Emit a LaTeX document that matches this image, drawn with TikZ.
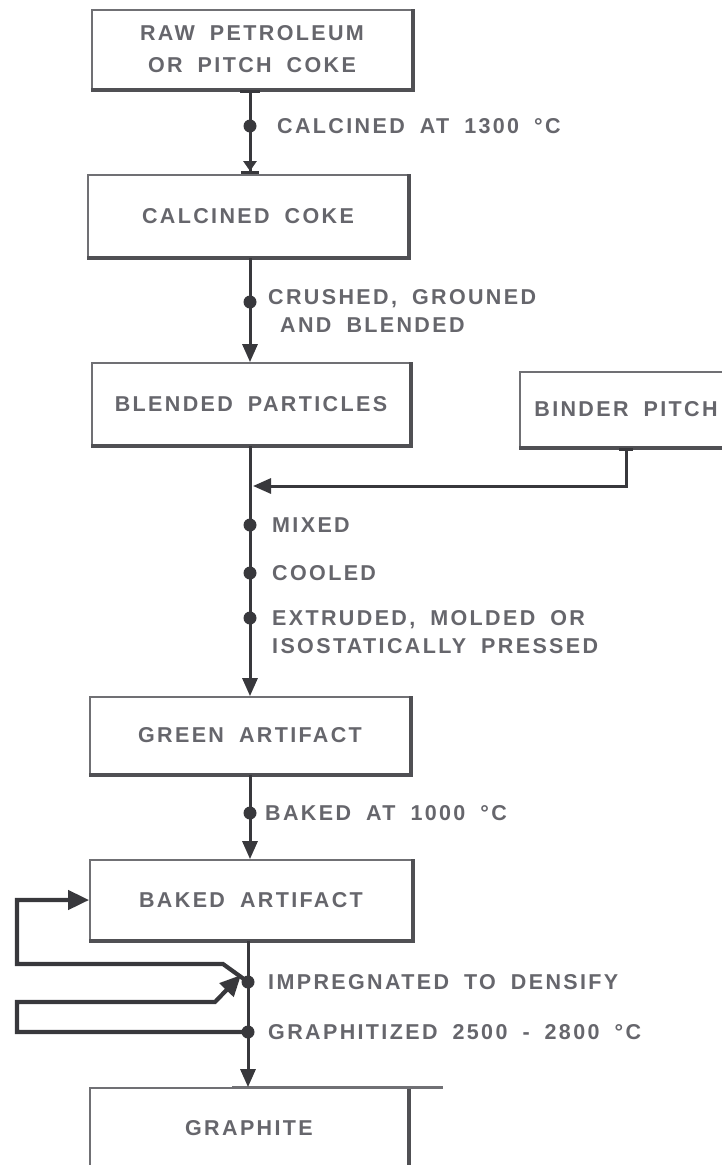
\documentclass[tikz,border=0pt]{standalone}
\usepackage{fontspec}
\setmainfont{Liberation Sans}[LetterSpace=11, WordSpace=1.8, UprightFont=* Bold]
\usetikzlibrary{arrows.meta}
\definecolor{txt}{HTML}{66666C}
\definecolor{boxc}{HTML}{707074}
\definecolor{boxd}{HTML}{505054}
\definecolor{linec}{HTML}{38383C}
\begin{document}
\begin{tikzpicture}[x=1pt,y=-1pt,
  box/.style={draw=boxc, line width=1.8pt, fill=white, align=center, text=txt,
    font=\fontsize{21.5}{32}\selectfont, inner sep=0pt},
  lbl/.style={anchor=west, text=txt, font=\fontsize{21.5}{28}\selectfont, inner sep=0pt, align=left},
  dot/.style={circle, fill=linec, minimum size=13pt, inner sep=0pt},
  conn/.style={draw=linec, line width=3pt},
  arr/.style={conn, -{Triangle[width=15pt,length=18pt]}},
  loop/.style={draw=linec, line width=4.2pt, line join=miter, -{Triangle[width=19pt,length=21pt]}},
  shadowedge/.style={draw=boxd, line width=4.5pt}
]
\useasboundingbox (0,0) rectangle (722,1165);
\clip (0,0) rectangle (722,1165);

% boxes
\node[box, minimum width=320pt, minimum height=79pt] (b1) at (252,49.5) {RAW PETROLEUM\\OR PITCH COKE};
\node[box, minimum width=320pt, minimum height=82pt] (b2) at (248,216) {CALCINED COKE};
\node[box, minimum width=318pt, minimum height=82pt] (b3) at (251,404) {BLENDED PARTICLES};
\node[box, minimum width=212pt, minimum height=75pt] (bp) at (626,409.5) {BINDER PITCH};
\node[box, minimum width=320pt, minimum height=77pt] (g) at (250,735.5) {GREEN ARTIFACT};
\node[box, minimum width=322pt, minimum height=80pt] (bk) at (251,900) {BAKED ARTIFACT};
\node[box, minimum width=318pt, minimum height=80pt] (gr) at (249,1128) {GRAPHITE};

% heavier bottom/right edges
\foreach \n in {b1,b2,b3,g,bk}
  \draw[shadowedge] (\n.south west) -- (\n.south east) -- (\n.north east);
\draw[shadowedge] (bp.south west) -- (bp.south east);
\draw[shadowedge] (gr.north east) -- (gr.south east);
\draw[draw=boxc, line width=3pt] (gr.north -| 232,0) -- ([xshift=34pt]gr.north east);

% process dots
\node[dot] (d1) at (250,126) {};
\node[dot] (d2) at (250,302) {};
\coordinate (j) at (250,486);
\node[dot] (d3) at (250,525) {};
\node[dot] (d4) at (250,573) {};
\node[dot] (d5) at (250,618) {};
\node[dot] (d6) at (250,813) {};
\node[dot] (d7) at (248,982) {};
\node[dot] (d8) at (248,1032) {};

% connectors
\draw[conn, {Bar[width=20pt]}-{Triangle[width=13pt,length=10pt] Bar[width=18pt]}]
  (b1.south -| d1) -- (d1.center) -- (b2.north -| d1);
\draw[arr] (b2.south -| d2) -- (d2.center) -- (b3.north -| d2);
\draw[arr] (b3.south -| j) -- (j) -- (d3.center) -- (d4.center) -- (d5.center) -- (g.north -| d5);
\draw[arr, {Bar[width=14pt]}-{Triangle[width=15pt,length=18pt]}] (bp.south) |- ([xshift=3pt]j);
\draw[arr] (g.south -| d6) -- (d6.center) -- (bk.north -| d6);
\draw[arr] (bk.south -| d7) -- (d7.center) -- (d8.center) -- (gr.north -| d8);
\draw[loop] (d7.center) -- (223,964) -- (17,964) -- (17,900) -- (bk.west);
\draw[loop] (d8.center) -- (17,1032) -- (17,1002) -- (215,1002) -- ([shift={(-7pt,7pt)}]d7.center);

% step labels
\node[lbl] (l1) at (277,126) {CALCINED AT 1300 °C};
\node[lbl] (l2) at (268,311) {CRUSHED, GROUNED\\\hspace*{12pt}AND BLENDED};
\node[lbl] (l3) at (272,525) {MIXED};
\node[lbl] (l4) at (272,573) {COOLED};
\node[lbl] (l5) at (272,632.5) {EXTRUDED, MOLDED OR\\ISOSTATICALLY PRESSED};
\node[lbl] (l6) at (265,813) {BAKED AT 1000 °C};
\node[lbl] (l7) at (268,982) {IMPREGNATED TO DENSIFY};
\node[lbl] (l8) at (268,1032) {GRAPHITIZED 2500 - 2800 °C};
\end{tikzpicture}
\end{document}
